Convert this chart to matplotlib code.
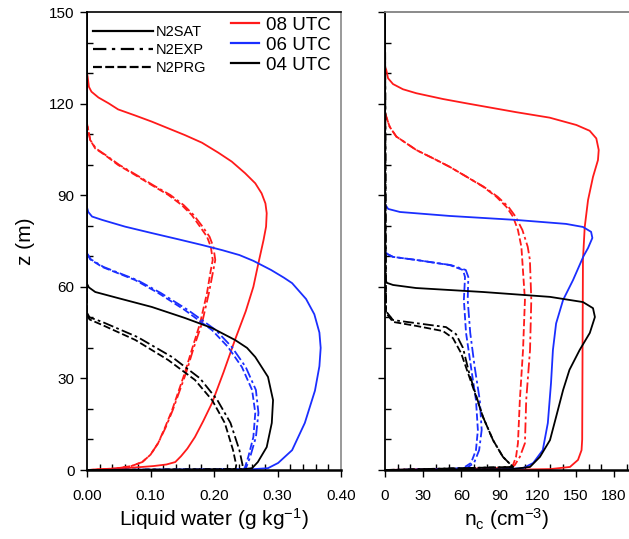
import numpy as np
import matplotlib
matplotlib.use('Agg')
from matplotlib import pyplot as plt
from matplotlib.lines import Line2D
from matplotlib.ticker import MultipleLocator, FormatStrFormatter

plt.rcParams['font.family'] = ['Liberation Sans', 'DejaVu Sans']
plt.rcParams['mathtext.default'] = 'regular'

# ---- liquid water (g/kg) profiles ----
lwc_08_sat_v = [0, 0, 0.001, 0.003, 0.007, 0.018, 0.034, 0.049, 0.076, 0.102, 0.128, 0.154, 0.181, 0.207, 0.228, 0.249, 0.265, 0.275, 0.281, 0.283, 0.282, 0.278, 0.270, 0.262, 0.250, 0.233, 0.215, 0.197, 0.183, 0.170, 0.158, 0.148, 0.139, 0.125, 0.105, 0.087, 0.060, 0.030, 0]
lwc_08_sat_z = [150, 130, 128.8, 125.5, 123.9, 122.0, 120.1, 118.1, 116.1, 114.1, 111.9, 109.7, 107.2, 103.9, 101.0, 97.2, 93.9, 90.6, 87.3, 84.1, 79.7, 75.3, 67.8, 60, 52, 42.6, 32, 22, 16, 10.8, 7, 4.5, 2.6, 1.8, 1.3, 1, 0.6, 0.3, 0]

lwc_08_prg_v = [0, 0, 0.001, 0.005, 0.013, 0.028, 0.049, 0.076, 0.102, 0.128, 0.149, 0.165, 0.178, 0.189, 0.195, 0.198, 0.195, 0.189, 0.178, 0.166, 0.154, 0.134, 0.123, 0.112, 0.100, 0.087, 0.070, 0.049, 0.020, 0]
lwc_08_exp_v = [0, 0, 0.001, 0.005, 0.014, 0.029, 0.051, 0.078, 0.104, 0.131, 0.152, 0.168, 0.182, 0.193, 0.199, 0.202, 0.199, 0.192, 0.181, 0.168, 0.156, 0.135, 0.124, 0.112, 0.100, 0.087, 0.070, 0.049, 0.020, 0]
lwc_08_z = [150, 113.5, 112.4, 108.1, 105.3, 103.2, 99.9, 96.6, 93.3, 90.1, 86.8, 83.5, 79.7, 76.4, 73.1, 68.8, 65.5, 58, 48, 40, 31.8, 19.6, 14, 8.8, 5, 2.6, 1.3, 0.6, 0.2, 0]

lwc_06_sat_v = [0, 0, 0.002, 0.008, 0.024, 0.060, 0.102, 0.145, 0.181, 0.213, 0.240, 0.262, 0.290, 0.310, 0.323, 0.345, 0.358, 0.366, 0.368, 0.366, 0.359, 0.343, 0.323, 0.301, 0.285, 0.250, 0]
lwc_06_sat_z = [150, 86, 84.5, 83, 81.9, 79.7, 77.6, 75.5, 73.7, 72, 70.4, 68.5, 65.5, 63, 61.2, 56, 51, 45, 40, 34, 26, 15.4, 6.5, 2.3, 0.6, 0.1, 0]

lwc_06_prg_v = [0, 0, 0.005, 0.024, 0.076, 0.112, 0.154, 0.197, 0.222, 0.244, 0.260, 0.265, 0.262, 0.254, 0.249, 0.247, 0]
lwc_06_exp_v = [0, 0, 0.006, 0.026, 0.079, 0.116, 0.159, 0.203, 0.228, 0.250, 0.266, 0.270, 0.266, 0.257, 0.251, 0.249, 0]
lwc_06_z = [150, 71, 69, 66.5, 62.2, 58, 52.4, 45.8, 40.3, 33.7, 26.2, 18.7, 10.8, 4.3, 1, 0.3, 0]

lwc_04_sat_v = [0, 0, 0.003, 0.013, 0.049, 0.102, 0.154, 0.197, 0.233, 0.252, 0.265, 0.285, 0.293, 0.291, 0.283, 0.269, 0.260, 0.240, 0]
lwc_04_sat_z = [150, 61, 59.8, 58.3, 56.3, 53.4, 49.8, 46.5, 42.6, 40, 37, 30.5, 22.9, 15.4, 7.5, 2.6, 0.6, 0.1, 0]

lwc_04_prg_v = [0, 0, 0.004, 0.024, 0.076, 0.128, 0.170, 0.197, 0.217, 0.230, 0.235, 0.234, 0]
lwc_04_prg_z = [150, 50.8, 49.3, 47.5, 42.6, 36, 29.5, 22.9, 15.4, 6.5, 1.6, 0.3, 0]
lwc_04_exp_v = [0, 0, 0.004, 0.024, 0.080, 0.134, 0.178, 0.205, 0.226, 0.240, 0.245, 0.244, 0]
lwc_04_exp_z = [150, 51.5, 50, 48.5, 43.5, 37, 30, 23, 15.4, 6.5, 1.6, 0.3, 0]

# ---- droplet number (cm-3) profiles ----
nc_08_sat_v = [0, 0, 1.0, 2.4, 6.3, 14.1, 24.6, 45.6, 63.9, 103, 129.4, 150.4, 160.9, 166.1, 168, 167.4, 163.5, 159.6, 157, 155.6, 155.3, 155, 154.5, 151.7, 145.4, 130, 100, 0]
nc_08_sat_z = [150, 132, 131, 128.3, 126.4, 124.7, 123.4, 121.5, 120.1, 117.2, 115.4, 113, 111.1, 108.6, 104.8, 101.5, 96, 88.4, 79.6, 68.8, 40, 10, 6.5, 3.3, 1, 0.3, 0.1, 0]

nc_08_prg_v = [0, 0, 1.0, 3.7, 8.9, 16.8, 24.6, 37.7, 50.8, 63.9, 77, 87.5, 95.4, 100.6, 104.5, 107.2, 107.9, 110, 108.5, 106, 104.5, 103, 100.6, 98, 0]
nc_08_exp_v = [0, 0, 1.0, 3.7, 8.9, 16.8, 24.6, 37.7, 50.8, 63.9, 77.5, 88.5, 97, 102.6, 108, 112.2, 113.9, 115, 114, 111, 110, 106, 102, 99, 0]
nc_08_z = [150, 117, 115.7, 112.4, 109.2, 107.0, 104.8, 102.1, 99.3, 96.1, 92.8, 89.5, 86.2, 83, 78.6, 73.1, 68.8, 55.7, 39.3, 22.9, 8.8, 4.3, 1.6, 0.6, 0]

nc_06_sat_v = [0, 0, 2.5, 11.8, 51, 103, 142.3, 155.6, 162, 163, 159.6, 156, 147.8, 140, 134.5, 132, 130.5, 128, 124, 116.5, 108.5, 90, 0]
nc_06_sat_z = [150, 87, 85.5, 84.5, 83.2, 81.9, 80.6, 79.6, 78, 76, 72.7, 70, 62.2, 55.7, 48, 39.3, 28.5, 15.4, 6.5, 2.3, 0.6, 0.2, 0]

nc_06_prg_v = [0, 0, 1.5, 6.3, 24.4, 51, 61.3, 62.9, 62, 63.7, 67.6, 71.5, 73, 71.5, 67.6, 61.3, 40, 0]
nc_06_exp_v = [0, 0, 1.5, 6.3, 24.4, 52, 63.5, 65.5, 65, 67, 70.5, 74.5, 76, 74, 70, 64, 42, 0]
nc_06_z = [150, 72, 70.8, 69.8, 68.8, 67.1, 65.5, 63.2, 55.7, 44.9, 33.7, 22.9, 13.1, 6.5, 2.3, 0.6, 0.2, 0]

nc_04_sat_v = [0, 0, 1.5, 6.3, 24.4, 77, 129.7, 155.6, 163.5, 165, 161, 153, 145, 140, 134.5, 129.7, 121.8, 114, 100, 0]
nc_04_sat_z = [150, 62.5, 61.3, 60.6, 59.6, 58.3, 56.7, 55, 53, 50.1, 44.9, 39.3, 32.8, 26.2, 17.4, 9.8, 4.3, 1, 0.3, 0]

nc_04_prg_v = [0, 0.8, 6.3, 24.4, 45.6, 53.4, 59.8, 65.2, 70.7, 77, 84.9, 92.7, 100.6, 0]
nc_04_prg_z = [150, 51.4, 48.5, 47.2, 45.5, 43.2, 38.3, 31.8, 25.2, 17.4, 9.8, 4.3, 1, 0]
nc_04_exp_v = [0, 0.8, 6.3, 24.4, 48, 55.8, 61.3, 66, 71, 77, 84.9, 92.7, 100.6, 0]
nc_04_exp_z = [150, 52, 49.1, 48.1, 46.8, 44.5, 40, 32, 25.2, 17.4, 9.8, 4.3, 1, 0]

RED = '#ff1a1a'
BLUE = '#1a2eff'
BLACK = 'k'
DASH = (0, (4, 1.6))
DASHDOT = (0, (6, 1.8, 1.5, 1.8))
LW = 1.3

fig = plt.figure(figsize=(6.29, 5.39), dpi=100)
ax1 = fig.add_axes([87/629, 69/539, 254/629, 458/539])
ax2 = fig.add_axes([385/629, 69/539, 244/629, 458/539])

# left panel: liquid water
ax1.plot(lwc_08_sat_v, lwc_08_sat_z, color=RED, lw=LW)
ax1.plot(lwc_08_prg_v, lwc_08_z, color=RED, lw=LW, ls=DASH)
ax1.plot(lwc_08_exp_v, lwc_08_z, color=RED, lw=LW, ls=DASHDOT)
ax1.plot(lwc_06_sat_v, lwc_06_sat_z, color=BLUE, lw=LW)
ax1.plot(lwc_06_prg_v, lwc_06_z, color=BLUE, lw=LW, ls=DASH)
ax1.plot(lwc_06_exp_v, lwc_06_z, color=BLUE, lw=LW, ls=DASHDOT)
ax1.plot(lwc_04_sat_v, lwc_04_sat_z, color=BLACK, lw=LW)
ax1.plot(lwc_04_prg_v, lwc_04_prg_z, color=BLACK, lw=LW, ls=DASH)
ax1.plot(lwc_04_exp_v, lwc_04_exp_z, color=BLACK, lw=LW, ls=DASHDOT)

# right panel: droplet number
ax2.plot(nc_08_sat_v, nc_08_sat_z, color=RED, lw=LW)
ax2.plot(nc_08_prg_v, nc_08_z, color=RED, lw=LW, ls=DASH)
ax2.plot(nc_08_exp_v, nc_08_z, color=RED, lw=LW, ls=DASHDOT)
ax2.plot(nc_06_sat_v, nc_06_sat_z, color=BLUE, lw=LW)
ax2.plot(nc_06_prg_v, nc_06_z, color=BLUE, lw=LW, ls=DASH)
ax2.plot(nc_06_exp_v, nc_06_z, color=BLUE, lw=LW, ls=DASHDOT)
ax2.plot(nc_04_sat_v, nc_04_sat_z, color=BLACK, lw=LW)
ax2.plot(nc_04_prg_v, nc_04_prg_z, color=BLACK, lw=LW, ls=DASH)
ax2.plot(nc_04_exp_v, nc_04_exp_z, color=BLACK, lw=LW, ls=DASHDOT)

ax1.set_xlim(0, 0.40)
ax1.set_ylim(0, 150)
ax2.set_xlim(0, 191.8)
ax2.set_ylim(0, 150)

for ax in (ax1, ax2):
    ax.yaxis.set_major_locator(MultipleLocator(30))
    ax.yaxis.set_minor_locator(MultipleLocator(10))
    ax.tick_params(which='major', direction='out', length=5, width=1, labelsize=11, pad=4)
    ax.tick_params(which='minor', direction='in', length=4, width=1)
    ax.spines['bottom'].set_linewidth(1.8)
    ax.spines['left'].set_linewidth(1.3)
    ax.spines['top'].set_linewidth(1.2)
    ax.spines['right'].set_linewidth(1.2)

ax1.xaxis.set_major_locator(MultipleLocator(0.1))
ax1.xaxis.set_minor_locator(MultipleLocator(0.02))
ax1.xaxis.set_major_formatter(FormatStrFormatter('%.2f'))
ax1.spines['right'].set_color('#888888')
ax1.tick_params(axis='x', pad=9)

ax2.xaxis.set_major_locator(MultipleLocator(30))
ax2.xaxis.set_minor_locator(MultipleLocator(10))
ax2.tick_params(axis='y', labelleft=False)
ax2.tick_params(axis='x', pad=9)
ax2.spines['top'].set_color('#777777')
ax2.spines['right'].set_visible(False)

ax1.set_ylabel('z (m)', fontsize=15, labelpad=10)
ax1.set_xlabel('Liquid water (g kg$^{-1}$)', fontsize=15, labelpad=2)
ax2.set_xlabel('n$_c$ (cm$^{-3}$)', fontsize=15, labelpad=2)

# legends
style_handles = [Line2D([], [], color='k', lw=1.6),
                 Line2D([], [], color='k', lw=1.6, ls=(0, (6, 2.5, 1.5, 2.5))),
                 Line2D([], [], color='k', lw=1.6, ls=(0, (4, 1.5)))]
leg1 = ax1.legend(style_handles, ['N2SAT', 'N2EXP', 'N2PRG'], loc='upper left',
                  bbox_to_anchor=(0.0, 0.985), frameon=False, fontsize=10.5,
                  handlelength=4.1, handletextpad=0.2, labelspacing=0.3,
                  borderaxespad=0.2, borderpad=0.2)
ax1.add_artist(leg1)
time_handles = [Line2D([], [], color=RED, lw=1.6),
                Line2D([], [], color=BLUE, lw=1.6),
                Line2D([], [], color='k', lw=1.6)]
ax1.legend(time_handles, ['08 UTC', '06 UTC', '04 UTC'], loc='upper left',
           bbox_to_anchor=(0.565, 0.99), frameon=False, fontsize=13.5,
           handlelength=1.5, handletextpad=0.37, labelspacing=0.15,
           borderaxespad=0.0, borderpad=0.0)

fig.savefig('out.png', dpi=100)
